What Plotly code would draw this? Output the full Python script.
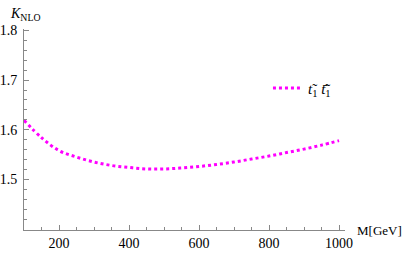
import plotly.graph_objects as go

mass = [100, 150, 200, 250, 300, 350, 400, 450, 500, 550, 600, 650, 700, 750, 800, 850, 900, 950, 1000]
k_nlo = [1.619, 1.584, 1.558, 1.545, 1.535, 1.528, 1.524, 1.521, 1.521, 1.523, 1.526, 1.530, 1.535, 1.541, 1.547, 1.554, 1.561, 1.569, 1.578]
series_name = "<i>t</i>\u0303<sub>1</sub> <i>t</i>\u0304\u0303<sub>1</sub>"

x_ticks = [200, 400, 600, 800, 1000]
y_ticks = [1.5, 1.6, 1.7, 1.8]

font = "Times New Roman, Liberation Serif, serif"
axis_col = "#888888"

fig = go.Figure()
fig.add_trace(go.Scatter(
    x=mass, y=k_nlo, mode="lines", name=series_name,
    line=dict(color="#ff00ff", width=3, dash="3px,3px", shape="spline"),
    cliponaxis=False,
))

fig.update_layout(
    width=407, height=255,
    margin=dict(l=24, r=62, t=29, b=25, autoexpand=False),
    paper_bgcolor="white", plot_bgcolor="white",
    font=dict(family=font, size=14, color="black"),
    showlegend=True,
    legend=dict(x=0.76, y=0.705, xanchor="left", yanchor="middle",
                bgcolor="rgba(0,0,0,0)", font=dict(family=font, size=15)),
    xaxis=dict(
        range=[100, 1017], showgrid=False, zeroline=False, automargin=False,
        showline=True, linecolor=axis_col, linewidth=1,
        tickmode="array", tickvals=x_ticks, ticktext=[str(v) for v in x_ticks],
        ticks="inside", ticklen=5, tickcolor=axis_col,
        minor=dict(dtick=50, tick0=100, ticks="inside", ticklen=3, tickcolor=axis_col),
        tickfont=dict(family=font, size=14),
    ),
    yaxis=dict(
        range=[1.398, 1.803], showgrid=False, zeroline=False, automargin=False,
        showline=True, linecolor=axis_col, linewidth=1,
        tickmode="array", tickvals=y_ticks, ticktext=[f"{v:.1f}" for v in y_ticks],
        ticks="inside", ticklen=5, tickcolor=axis_col,
        minor=dict(dtick=0.02, tick0=1.4, ticks="inside", ticklen=3, tickcolor=axis_col),
        tickfont=dict(family=font, size=14),
        ticklabelstandoff=3,
    ),
    annotations=[
        dict(text="<i>K</i><sub>NLO</sub>", xref="paper", yref="paper", x=-0.05, y=1.02,
             xanchor="left", yanchor="bottom", showarrow=False, font=dict(family=font, size=14)),
        dict(text="M[GeV]", xref="paper", yref="paper", x=1.03, y=0.0,
             xanchor="left", yanchor="middle", showarrow=False, font=dict(family=font, size=13)),
    ],
)

fig.write_html("out.html", config={"displayModeBar": False},
               post_script="document.body.style.margin='0';")
